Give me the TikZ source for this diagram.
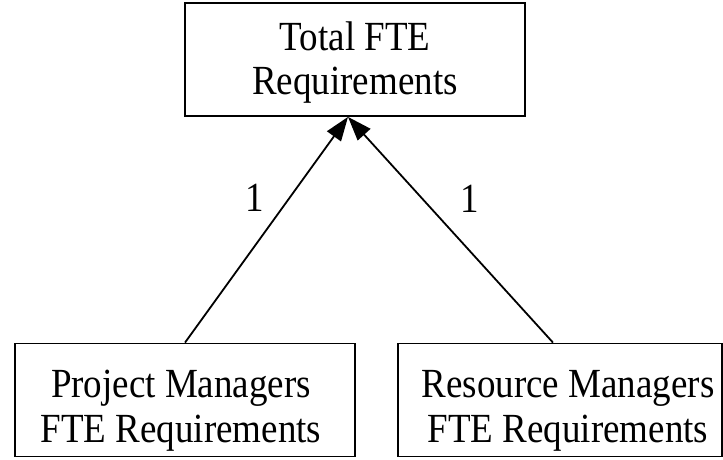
\documentclass[tikz,border=0pt]{standalone}
\usepackage{fontspec}
\setmainfont{Liberation Serif}
\usetikzlibrary{arrows.meta}
% text set a little taller than wide
\newcommand\tallstack[1]{\scalebox{1}[1.12]{\begin{tabular}{@{}c@{}}#1\end{tabular}}}
\begin{document}
\begin{tikzpicture}[x=1pt,y=1pt,
  reqbox/.style={draw=black, line width=1.8pt, inner sep=0pt, minimum height=113pt},
  boxtext/.style={inner sep=0pt, font=\fontsize{37}{40}\selectfont},
  link/.style={line width=1.8pt, -{Triangle[length=24pt,width=17pt]}},
  mult/.style={font=\fontsize{37}{40}\selectfont, inner sep=0pt}]
  \useasboundingbox (0,0) rectangle (723,459);
  % boxes
  \node[reqbox, minimum width=340pt,
    label={[boxtext, yshift=-4pt]center:\tallstack{Total FTE\\Requirements}}]
    (tot) at (355,399.5) {};
  \node[reqbox, minimum width=340pt,
    label={[boxtext, xshift=-4pt, yshift=-11pt]center:\tallstack{Project Managers\\FTE Requirements}}]
    (pm) at (185,59) {};
  \node[reqbox, minimum width=324pt,
    label={[boxtext, xshift=8pt, yshift=-11pt]center:\tallstack{Resource Managers\\FTE Requirements}}]
    (rm) at (560,59) {};
  % aggregation links
  \coordinate (join) at ([xshift=-7pt]tot.south);
  \draw[link] (pm.north) -- (join);
  \draw[link] ([xshift=-7pt]rm.north) -- (join);
  % multiplicities
  \node[mult] (m1) at (255,261) {\scalebox{1}[1.12]{1}};
  \node[mult] (m2) at (470,260) {\scalebox{1}[1.12]{1}};
\end{tikzpicture}
\end{document}
